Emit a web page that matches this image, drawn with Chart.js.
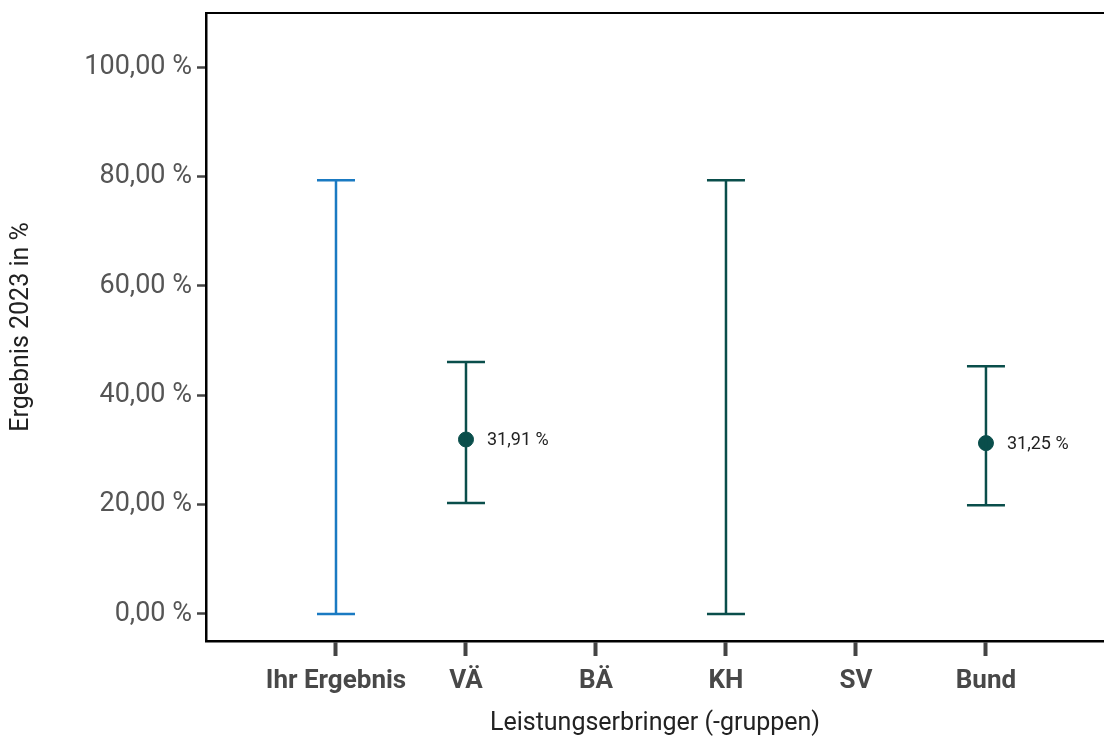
<!DOCTYPE html>
<html>
<head>
<meta charset="utf-8">
<script src="https://cdn.jsdelivr.net/npm/chart.js@4/dist/chart.umd.min.js"></script>
<style>
  body { margin: 0; background: #fff; overflow: hidden; }
</style>
</head>
<body>
<canvas id="myChart" width="1104" height="736"></canvas>
<script>
var categories = ["Ihr Ergebnis", "VÄ", "BÄ", "KH", "SV", "Bund"];
var lowerValues = [0, 20.3, null, 0, null, 19.9];
var upperValues = [79.3, 46.1, null, 79.3, null, 45.3];
var resultValues = [null, 31.91, null, null, null, 31.25];
var barColors = ["#1a7ac2", "#0a4e4b", "#0a4e4b", "#0a4e4b", "#0a4e4b", "#0a4e4b"];
var yTicks = [0, 20, 40, 60, 80, 100];

var fontName = "Roboto";

function fmt(v, digits) {
  return v.toFixed(digits).replace(".", ",") + " %";
}

var datasets = [];
for (var i = 0; i < categories.length; i++) {
  if (lowerValues[i] === null) continue;
  datasets.push({
    type: "line",
    data: [{x: i + 1, y: lowerValues[i]}, {x: i + 1, y: upperValues[i]}],
    borderColor: barColors[i],
    borderWidth: 2.5,
    pointStyle: "line",
    pointRadius: 19,
    pointHoverRadius: 19,
    pointBorderWidth: 2.5,
    pointBorderColor: barColors[i],
    fill: false
  });
}

var pointData = [];
for (var j = 0; j < categories.length; j++) {
  if (resultValues[j] !== null) pointData.push({x: j + 1, y: resultValues[j]});
}
datasets.push({
  type: "scatter",
  data: pointData,
  pointStyle: "circle",
  pointRadius: 7.5,
  pointHoverRadius: 7.5,
  backgroundColor: "#0a4e4b",
  borderColor: "#0a4e4b",
  isResult: true
});

// frame line on top, and the value labels next to the points
var framePlugin = {
  id: "framePlugin",
  afterDraw: function (chart) {
    var ctx = chart.ctx;
    var a = chart.chartArea;
    ctx.save();
    ctx.strokeStyle = "#000";
    ctx.lineWidth = 2;
    ctx.beginPath();
    ctx.moveTo(a.left - 1, a.top);
    ctx.lineTo(a.right, a.top);
    ctx.stroke();
    ctx.restore();
  },
  afterDatasetsDraw: function (chart) {
    var ctx = chart.ctx;
    chart.data.datasets.forEach(function (ds, k) {
      if (!ds.isResult) return;
      var meta = chart.getDatasetMeta(k);
      meta.data.forEach(function (pt, n) {
        ctx.save();
        ctx.fillStyle = "#222";
        ctx.font = "18px " + fontName;
        ctx.textAlign = "left";
        ctx.textBaseline = "middle";
        ctx.fillText(fmt(ds.data[n].y, 2), pt.x + 21, pt.y + 1);
        ctx.restore();
      });
    });
  }
};

new Chart("myChart", {
  data: { datasets: datasets },
  plugins: [framePlugin],
  options: {
    responsive: false,
    animation: false,
    layout: { autoPadding: false, padding: { top: 13, right: 0, left: 0, bottom: 0 } },
    plugins: {
      legend: { display: false },
      tooltip: { enabled: false }
    },
    scales: {
      x: {
        type: "linear",
        min: 0,
        max: 6.908,
        afterBuildTicks: function (scale) {
          scale.ticks = categories.map(function (c, i) { return {value: i + 1}; });
        },
        afterFit: function (scale) {
          scale.height = 95;
          scale.paddingLeft = 0;
          scale.paddingRight = 0;
        },
        ticks: {
          autoSkip: false,
          maxRotation: 0,
          padding: 10,
          color: "#484848",
          font: { family: fontName, size: 26, weight: "bold" },
          callback: function (v) { return categories[v - 1]; }
        },
        grid: {
          drawOnChartArea: false,
          drawTicks: true,
          tickLength: 15,
          tickWidth: 4,
          tickColor: "#444"
        },
        border: { display: true, color: "#000", width: 2.5 },
        title: {
          display: true,
          text: "Leistungserbringer (-gruppen)",
          color: "#222",
          font: { family: fontName, size: 25, lineHeight: 1 },
          padding: { top: 0, bottom: 0 }
        }
      },
      y: {
        type: "linear",
        min: -4.94,
        max: 109.9,
        afterBuildTicks: function (scale) {
          scale.ticks = yTicks.map(function (v) { return {value: v}; });
        },
        afterFit: function (scale) {
          scale.width = 206;
          scale.paddingTop = 0;
          scale.paddingBottom = 0;
        },
        ticks: {
          padding: 5,
          color: "#555",
          font: { family: fontName, size: 27 },
          callback: function (v) { return fmt(v, 2); }
        },
        grid: {
          drawOnChartArea: false,
          drawTicks: true,
          tickLength: 9,
          tickWidth: 2.5,
          tickColor: "#444"
        },
        border: { display: true, color: "#000", width: 2.5 },
        title: {
          display: true,
          text: "Ergebnis 2023 in %",
          color: "#222",
          font: { family: fontName, size: 25 },
          padding: { top: 7, bottom: 0 }
        }
      }
    }
  }
});
</script>
</body>
</html>
